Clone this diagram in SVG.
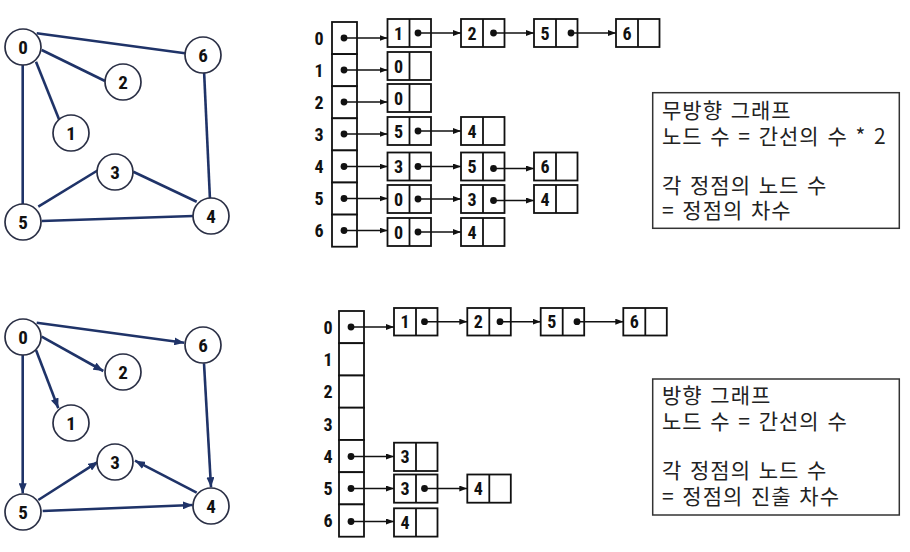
<svg xmlns="http://www.w3.org/2000/svg" width="910" height="552" viewBox="0 0 910 552">
<style>
.bg{fill:#fff}
.gn circle{fill:#fff;stroke:#2a2f45;stroke-width:1.7}
.gn text{font-family:"Liberation Sans Narrow","Roboto Condensed","Liberation Sans",sans-serif;font-weight:bold;font-size:19px;fill:#111;text-anchor:middle}
.ge line{stroke:#1f3368;stroke-width:2.6;fill:none}
.ln rect,.hd rect{fill:#fff;stroke:#111;stroke-width:1.8}
.ln line{stroke:#111;stroke-width:1.8}
.ln text,.rl{font-family:"Liberation Sans Narrow","Roboto Condensed","Liberation Sans",sans-serif;font-weight:bold;font-size:18px;fill:#111;text-anchor:middle}
.dot{fill:#111}
.la line{stroke:#111;stroke-width:1.6}
.note rect{fill:#fff;stroke:#333;stroke-width:1.5}
.note text{font-family:"Noto Sans CJK KR","Noto Sans",sans-serif;font-size:21px;letter-spacing:1px;word-spacing:2px;fill:#222}
</style>
<defs>
<marker id="ah" viewBox="0 0 8 6" refX="8" refY="3" markerWidth="8" markerHeight="6" markerUnits="userSpaceOnUse" orient="auto"><path d="M0,0 L8,3 L0,6 z" fill="#111"/></marker>
<marker id="gh" viewBox="0 0 10 8" refX="10" refY="4" markerWidth="10" markerHeight="8" markerUnits="userSpaceOnUse" orient="auto"><path d="M0,0 L10,4 L0,8 z" fill="#1f3368"/></marker>
</defs>
<rect class="bg" width="910" height="552"/>

<!-- Top undirected graph -->
<g id="g1-edges" class="ge">
<line x1="36.7" y1="33.3" x2="185" y2="53.3"/>
<line x1="41.7" y1="50" x2="105" y2="81"/>
<line x1="36" y1="61.7" x2="59.3" y2="120"/>
<line x1="22.7" y1="65" x2="22.7" y2="205"/>
<line x1="38.3" y1="206.7" x2="98.3" y2="170"/>
<line x1="133.3" y1="171.7" x2="196.7" y2="201.7"/>
<line x1="41.7" y1="221" x2="193.3" y2="216"/>
<line x1="204" y1="70" x2="210" y2="200"/>
</g>
<g id="g1-n0" class="gn"><circle cx="23" cy="47" r="18"/><text x="23" y="53.8">0</text></g>
<g id="g1-n1" class="gn"><circle cx="71" cy="133" r="18"/><text x="71" y="139.8">1</text></g>
<g id="g1-n2" class="gn"><circle cx="123" cy="82" r="18"/><text x="123" y="88.8">2</text></g>
<g id="g1-n3" class="gn"><circle cx="115" cy="172" r="18"/><text x="115" y="178.8">3</text></g>
<g id="g1-n4" class="gn"><circle cx="211" cy="216" r="18"/><text x="211" y="222.8">4</text></g>
<g id="g1-n5" class="gn"><circle cx="23" cy="222" r="18"/><text x="23" y="228.8">5</text></g>
<g id="g1-n6" class="gn"><circle cx="203" cy="55" r="18"/><text x="203" y="61.8">6</text></g>

<!-- Bottom directed graph -->
<g id="g2-edges" class="ge">
<line x1="36.7" y1="322.7" x2="184.3" y2="342.7" marker-end="url(#gh)"/>
<line x1="41.7" y1="336.7" x2="103.3" y2="371" marker-end="url(#gh)"/>
<line x1="36" y1="350" x2="58.3" y2="408.3" marker-end="url(#gh)"/>
<line x1="22.7" y1="355" x2="22.7" y2="493.3" marker-end="url(#gh)"/>
<line x1="38.3" y1="500" x2="98.3" y2="461.7" marker-end="url(#gh)"/>
<line x1="196.7" y1="492.7" x2="135" y2="460.7" marker-end="url(#gh)"/>
<line x1="42.7" y1="511" x2="192.7" y2="505" marker-end="url(#gh)"/>
<line x1="204" y1="363.3" x2="211" y2="487.3" marker-end="url(#gh)"/>
</g>
<g id="g2-n0" class="gn"><circle cx="23" cy="337" r="18"/><text x="23" y="343.8">0</text></g>
<g id="g2-n1" class="gn"><circle cx="71" cy="423" r="18"/><text x="71" y="429.8">1</text></g>
<g id="g2-n2" class="gn"><circle cx="123" cy="372" r="18"/><text x="123" y="378.8">2</text></g>
<g id="g2-n3" class="gn"><circle cx="115" cy="462" r="18"/><text x="115" y="468.8">3</text></g>
<g id="g2-n4" class="gn"><circle cx="211" cy="506" r="18"/><text x="211" y="512.8">4</text></g>
<g id="g2-n5" class="gn"><circle cx="23" cy="512" r="18"/><text x="23" y="518.8">5</text></g>
<g id="g2-n6" class="gn"><circle cx="203" cy="345" r="18"/><text x="203" y="351.8">6</text></g>

<!-- Top adjacency list -->
<g id="l1-labels">
<text class="rl" x="319" y="44.5">0</text>
<text class="rl" x="319" y="76.5">1</text>
<text class="rl" x="319" y="108.5">2</text>
<text class="rl" x="319" y="140.5">3</text>
<text class="rl" x="319" y="173">4</text>
<text class="rl" x="319" y="205">5</text>
<text class="rl" x="319" y="237">6</text>
</g>
<g id="l1-head" class="hd">
<rect x="332" y="22" width="25" height="32.1"/>
<rect x="332" y="54.1" width="25" height="32.1"/>
<rect x="332" y="86.2" width="25" height="32.1"/>
<rect x="332" y="118.3" width="25" height="32.1"/>
<rect x="332" y="150.4" width="25" height="32.1"/>
<rect x="332" y="182.5" width="25" height="32.1"/>
<rect x="332" y="214.6" width="25" height="32.1"/>
</g>
<g id="l1-r0-1" class="ln"><rect x="387.5" y="19" width="43.5" height="28"/><line x1="409.5" y1="19" x2="409.5" y2="47"/><text x="398.5" y="39.5">1</text></g>
<g id="l1-r0-2" class="ln"><rect x="461" y="19" width="43.5" height="28"/><line x1="483" y1="19" x2="483" y2="47"/><text x="472" y="39.5">2</text></g>
<g id="l1-r0-5" class="ln"><rect x="534" y="19" width="43.5" height="28"/><line x1="556" y1="19" x2="556" y2="47"/><text x="545" y="39.5">5</text></g>
<g id="l1-r0-6" class="ln"><rect x="616" y="19" width="43.5" height="28"/><line x1="638" y1="19" x2="638" y2="47"/><text x="627" y="39.5">6</text></g>
<g id="l1-r1-0" class="ln"><rect x="387.5" y="52" width="43.5" height="28"/><line x1="409.5" y1="52" x2="409.5" y2="80"/><text x="398.5" y="72.5">0</text></g>
<g id="l1-r2-0" class="ln"><rect x="387.5" y="84" width="43.5" height="28"/><line x1="409.5" y1="84" x2="409.5" y2="112"/><text x="398.5" y="104.5">0</text></g>
<g id="l1-r3-5" class="ln"><rect x="387.5" y="117" width="43.5" height="28"/><line x1="409.5" y1="117" x2="409.5" y2="145"/><text x="398.5" y="137.5">5</text></g>
<g id="l1-r3-4" class="ln"><rect x="461" y="117" width="43.5" height="28"/><line x1="483" y1="117" x2="483" y2="145"/><text x="472" y="137.5">4</text></g>
<g id="l1-r4-3" class="ln"><rect x="387.5" y="152.5" width="43.5" height="28"/><line x1="409.5" y1="152.5" x2="409.5" y2="180.5"/><text x="398.5" y="173">3</text></g>
<g id="l1-r4-5" class="ln"><rect x="461" y="152.5" width="43.5" height="28"/><line x1="483" y1="152.5" x2="483" y2="180.5"/><text x="472" y="173">5</text></g>
<g id="l1-r4-6" class="ln"><rect x="534" y="152.5" width="43.5" height="28"/><line x1="556" y1="152.5" x2="556" y2="180.5"/><text x="545" y="173">6</text></g>
<g id="l1-r5-0" class="ln"><rect x="387.5" y="185" width="43.5" height="28"/><line x1="409.5" y1="185" x2="409.5" y2="213"/><text x="398.5" y="205.5">0</text></g>
<g id="l1-r5-3" class="ln"><rect x="461" y="185" width="43.5" height="28"/><line x1="483" y1="185" x2="483" y2="213"/><text x="472" y="205.5">3</text></g>
<g id="l1-r5-4" class="ln"><rect x="534" y="185" width="43.5" height="28"/><line x1="556" y1="185" x2="556" y2="213"/><text x="545" y="205.5">4</text></g>
<g id="l1-r6-0" class="ln"><rect x="387.5" y="218" width="43.5" height="28"/><line x1="409.5" y1="218" x2="409.5" y2="246"/><text x="398.5" y="238.5">0</text></g>
<g id="l1-r6-4" class="ln"><rect x="461" y="218" width="43.5" height="28"/><line x1="483" y1="218" x2="483" y2="246"/><text x="472" y="238.5">4</text></g>
<g id="l1-links" class="la">
<line x1="344" y1="38" x2="387.5" y2="38" marker-end="url(#ah)"/>
<line x1="418" y1="33" x2="461" y2="33" marker-end="url(#ah)"/>
<line x1="493.5" y1="33" x2="534" y2="33" marker-end="url(#ah)"/>
<line x1="571" y1="33" x2="616" y2="33" marker-end="url(#ah)"/>
<line x1="344" y1="70" x2="387.5" y2="70" marker-end="url(#ah)"/>
<line x1="344" y1="102" x2="387.5" y2="102" marker-end="url(#ah)"/>
<line x1="344" y1="134" x2="387.5" y2="134" marker-end="url(#ah)"/>
<line x1="418" y1="131" x2="461" y2="131" marker-end="url(#ah)"/>
<line x1="344" y1="166.5" x2="387.5" y2="166.5" marker-end="url(#ah)"/>
<line x1="418" y1="166.5" x2="461" y2="166.5" marker-end="url(#ah)"/>
<line x1="493.5" y1="168.5" x2="534" y2="168.5" marker-end="url(#ah)"/>
<line x1="344" y1="198.5" x2="387.5" y2="198.5" marker-end="url(#ah)"/>
<line x1="418" y1="199" x2="461" y2="199" marker-end="url(#ah)"/>
<line x1="493.5" y1="200.5" x2="534" y2="200.5" marker-end="url(#ah)"/>
<line x1="344" y1="230.5" x2="387.5" y2="230.5" marker-end="url(#ah)"/>
<line x1="418" y1="232" x2="461" y2="232" marker-end="url(#ah)"/>
<circle class="dot" cx="344" cy="38" r="3.4"/>
<circle class="dot" cx="418" cy="33" r="3.4"/>
<circle class="dot" cx="493.5" cy="33" r="3.4"/>
<circle class="dot" cx="571" cy="33" r="3.4"/>
<circle class="dot" cx="344" cy="70" r="3.4"/>
<circle class="dot" cx="344" cy="102" r="3.4"/>
<circle class="dot" cx="344" cy="134" r="3.4"/>
<circle class="dot" cx="418" cy="131" r="3.4"/>
<circle class="dot" cx="344" cy="166.5" r="3.4"/>
<circle class="dot" cx="418" cy="166.5" r="3.4"/>
<circle class="dot" cx="493.5" cy="168.5" r="3.4"/>
<circle class="dot" cx="344" cy="198.5" r="3.4"/>
<circle class="dot" cx="418" cy="199" r="3.4"/>
<circle class="dot" cx="493.5" cy="200.5" r="3.4"/>
<circle class="dot" cx="344" cy="230.5" r="3.4"/>
<circle class="dot" cx="418" cy="232" r="3.4"/>
</g>

<!-- Bottom adjacency list -->
<g id="l2-labels">
<text class="rl" x="328" y="333.5">0</text>
<text class="rl" x="328" y="366">1</text>
<text class="rl" x="328" y="398">2</text>
<text class="rl" x="328" y="430.5">3</text>
<text class="rl" x="328" y="462.5">4</text>
<text class="rl" x="328" y="495">5</text>
<text class="rl" x="328" y="527">6</text>
</g>
<g id="l2-head" class="hd">
<rect x="339" y="311" width="25" height="32.2"/>
<rect x="339" y="343.2" width="25" height="32.3"/>
<rect x="339" y="375.5" width="25" height="32.2"/>
<rect x="339" y="407.7" width="25" height="32.3"/>
<rect x="339" y="440" width="25" height="32.2"/>
<rect x="339" y="472.2" width="25" height="32.2"/>
<rect x="339" y="504.4" width="25" height="32.3"/>
</g>
<g id="l2-r0-1" class="ln"><rect x="394" y="308" width="43.5" height="27.5"/><line x1="416" y1="308" x2="416" y2="335.5"/><text x="405" y="328">1</text></g>
<g id="l2-r0-2" class="ln"><rect x="467.3" y="308" width="43.5" height="27.5"/><line x1="489.3" y1="308" x2="489.3" y2="335.5"/><text x="478.3" y="328">2</text></g>
<g id="l2-r0-5" class="ln"><rect x="540.7" y="308" width="43.5" height="27.5"/><line x1="562.7" y1="308" x2="562.7" y2="335.5"/><text x="551.7" y="328">5</text></g>
<g id="l2-r0-6" class="ln"><rect x="623.3" y="308" width="43.5" height="27.5"/><line x1="645.3" y1="308" x2="645.3" y2="335.5"/><text x="634.3" y="328">6</text></g>
<g id="l2-r4-3" class="ln"><rect x="394" y="442.7" width="43.5" height="28.3"/><line x1="416" y1="442.7" x2="416" y2="471"/><text x="405" y="463.3">3</text></g>
<g id="l2-r5-3" class="ln"><rect x="394" y="474.5" width="43.5" height="28.2"/><line x1="416" y1="474.5" x2="416" y2="502.7"/><text x="405" y="495">3</text></g>
<g id="l2-r5-4" class="ln"><rect x="467.3" y="474.5" width="43.5" height="28.2"/><line x1="489.3" y1="474.5" x2="489.3" y2="502.7"/><text x="478.3" y="495">4</text></g>
<g id="l2-r6-4" class="ln"><rect x="394" y="508.3" width="43.5" height="28.3"/><line x1="416" y1="508.3" x2="416" y2="536.6"/><text x="405" y="529">4</text></g>
<g id="l2-links" class="la">
<line x1="351" y1="327" x2="394" y2="327" marker-end="url(#ah)"/>
<line x1="424.5" y1="321.7" x2="467.3" y2="321.7" marker-end="url(#ah)"/>
<line x1="500" y1="321.7" x2="540.7" y2="321.7" marker-end="url(#ah)"/>
<line x1="577" y1="321.7" x2="623.3" y2="321.7" marker-end="url(#ah)"/>
<line x1="351" y1="456.5" x2="394" y2="456.5" marker-end="url(#ah)"/>
<line x1="351" y1="488.5" x2="394" y2="488.5" marker-end="url(#ah)"/>
<line x1="424.5" y1="488.5" x2="467.3" y2="488.5" marker-end="url(#ah)"/>
<line x1="351" y1="521.5" x2="394" y2="521.5" marker-end="url(#ah)"/>
<circle class="dot" cx="351" cy="327" r="3.4"/>
<circle class="dot" cx="424.5" cy="321.7" r="3.4"/>
<circle class="dot" cx="500" cy="321.7" r="3.4"/>
<circle class="dot" cx="577" cy="321.7" r="3.4"/>
<circle class="dot" cx="351" cy="456.5" r="3.4"/>
<circle class="dot" cx="351" cy="488.5" r="3.4"/>
<circle class="dot" cx="424.5" cy="488.5" r="3.4"/>
<circle class="dot" cx="351" cy="521.5" r="3.4"/>
</g>

<!-- Notes -->
<g id="note1" class="note">
<rect x="652.7" y="92.7" width="246.6" height="135.6"/>
<text x="662" y="118">무방향 그래프</text>
<text x="662" y="144">노드 수 = 간선의 수 * 2</text>
<text x="662" y="193">각 정점의 노드 수</text>
<text x="662" y="218">= 정점의 차수</text>
</g>
<g id="note2" class="note">
<rect x="652.7" y="379" width="246.6" height="136"/>
<text x="662" y="403">방향 그래프</text>
<text x="662" y="429">노드 수 = 간선의 수</text>
<text x="662" y="478">각 정점의 노드 수</text>
<text x="662" y="504">= 정점의 진출 차수</text>
</g>
</svg>
